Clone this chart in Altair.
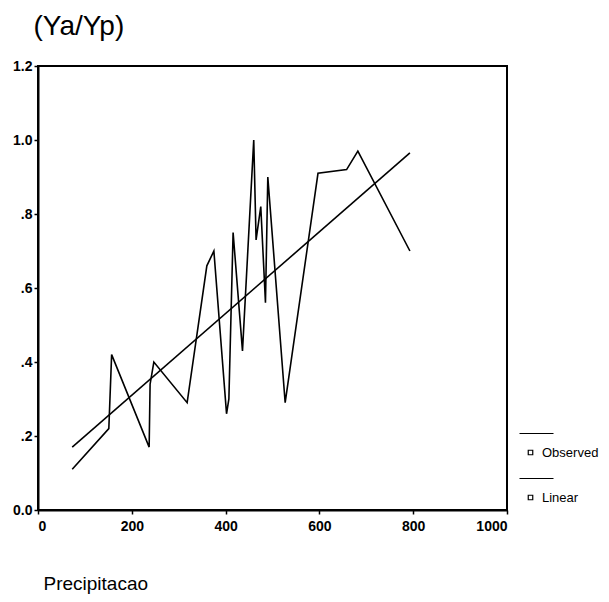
import altair as alt
import pandas as pd

# Observed series (Precipitacao vs Ya/Yp)
obs_x = [73, 151, 157, 237, 239, 247, 318, 360, 375, 402, 407, 416, 436,
         460, 465, 475, 485, 490, 527, 597, 658, 682, 793]
obs_y = [0.11, 0.22, 0.42, 0.17, 0.34, 0.40, 0.29, 0.66, 0.70, 0.26, 0.30,
         0.75, 0.43, 1.00, 0.73, 0.82, 0.56, 0.90, 0.29, 0.91, 0.92, 0.97, 0.70]

# Linear fit endpoints
lin_x = [73, 793]
lin_y = [0.17, 0.965]

series_names = ["Observed", "Linear"]
x_ticks = [0, 200, 400, 600, 800, 1000]
y_ticks = [0.0, 0.2, 0.4, 0.6, 0.8, 1.0, 1.2]

df = pd.concat([
    pd.DataFrame({"x": obs_x, "y": obs_y, "series": series_names[0]}),
    pd.DataFrame({"x": lin_x, "y": lin_y, "series": series_names[1]}),
])

FONT = "Liberation Sans"

legend_symbol = "M-2.2,-3.8L4.6,-3.8M-0.45,-0.45L0.45,-0.45L0.45,0.45L-0.45,0.45Z"

chart = alt.Chart(df).mark_line(strokeWidth=1.6).encode(
    x=alt.X("x:Q",
            scale=alt.Scale(domain=[0, 1000], nice=False),
            axis=alt.Axis(values=x_ticks, format="d", title="Precipitacao",
                          titleX=5, titleY=79, titleAlign="left",
                          titleAnchor="start", titleBaseline="alphabetic",
                          titleFontSize=19, titleFontWeight="normal",
                          labelPadding=5)),
    y=alt.Y("y:Q",
            scale=alt.Scale(domain=[0, 1.2], nice=False),
            axis=alt.Axis(values=y_ticks, title="(Ya/Yp)",
                          labelExpr="datum.value === 0 ? '0.0' : (datum.value < 1 ? substring(format(datum.value, '.1f'), 1) : format(datum.value, '.1f'))",
                          titleAngle=0, titleX=-5, titleY=-32,
                          titleAlign="left", titleAnchor="start",
                          titleBaseline="alphabetic",
                          titleFontSize=28, titleFontWeight="normal",
                          labelPadding=2)),
    color=alt.Color("series:N",
                    scale=alt.Scale(domain=series_names, range=["black", "black"]),
                    legend=alt.Legend(title=None, orient="none",
                                      legendX=486, legendY=380,
                                      symbolType=legend_symbol,
                                      symbolSize=100, symbolStrokeWidth=1.2,
                                      symbolStrokeColor="black",
                                      labelFont=FONT, labelFontSize=13,
                                      labelColor="black", labelOffset=5,
                                      rowPadding=16, padding=0)),
    order=alt.Order("x:Q"),
).properties(
    width=469,
    height=444,
    autosize=alt.AutoSizeParams(type="none"),
    padding={"left": 30, "top": 58, "right": 92, "bottom": 84},
).configure_view(
    stroke="black", strokeWidth=2
).configure_axis(
    grid=False,
    domainColor="black", domainWidth=2,
    tickColor="black", tickSize=4, tickWidth=1.5,
    labelFont=FONT, labelFontSize=14, labelFontWeight="bold",
    labelColor="black",
    titleFont=FONT, titleColor="black",
)

chart.save("out.html", embed_options={"renderer": "svg", "actions": False})
